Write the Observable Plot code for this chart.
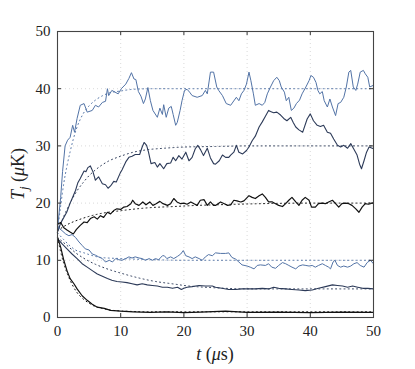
<!DOCTYPE html>
<html>
<head>
<meta charset="utf-8">
<script src="https://cdn.jsdelivr.net/npm/d3@7"></script>
<script src="https://cdn.jsdelivr.net/npm/@observablehq/plot@0.6"></script>
<style>
  html, body { margin: 0; padding: 0; background: #fff; }
  svg text { font-family: "Liberation Serif", "Times New Roman", serif !important; }
</style>
</head>
<body>
<div id="chart"></div>
<script>
// ---- tick values ----
const xTicks = [0, 10, 20, 30, 40, 50];
const yTicks = [0, 10, 20, 30, 40, 50];
const innerTicks = [10, 20, 30, 40];

// ---- measured series [t (µs), T (µK)] ----
const s40 = [[0,15.5],[0.5,21],[0.8,25.5],[1.2,30],[1.6,31],[2.0,31.5],[2.4,33.6],[2.7,32.4],[3.1,34.8],[3.6,37.1],[4.2,37.4],[4.7,35.9],[5.5,36.2],[6.0,37.1],[6.5,36.8],[7.1,37.6],[7.6,37.8],[7.9,40.0],[8.1,38.8],[8.6,39.7],[9.1,39.4],[9.6,39.1],[10.1,40.0],[10.8,40.8],[11.3,41.8],[11.7,42.8],[12.1,41.7],[12.4,41.6],[12.8,39.5],[13.2,38.7],[13.6,37.4],[13.9,38.2],[14.3,40.2],[14.7,37.9],[15.1,36.2],[15.8,35.0],[16.2,36.6],[16.6,35.5],[16.8,37.2],[17.2,35.0],[17.6,36.6],[18.0,36.9],[18.3,35.5],[18.7,33.6],[18.95,34.1],[19.4,36.2],[19.7,37.9],[20.1,39.7],[20.5,39.9],[20.9,39.4],[21.3,38.8],[22.1,38.5],[22.9,38.8],[23.4,39.7],[23.7,39.1],[24.2,42.9],[24.7,42.9],[25.2,40.3],[25.5,39.7],[26.1,38.8],[26.7,37.4],[27.4,37.1],[28.3,38.5],[28.7,37.9],[29.1,39.1],[29.5,39.7],[29.9,40.8],[30.3,42.9],[30.6,41.4],[31.0,39.1],[31.3,37.1],[31.9,37.4],[32.4,37.1],[32.8,37.6],[33.2,39.1],[33.7,40.3],[34.2,41.4],[34.7,42.0],[35.1,41.4],[35.4,40.3],[35.9,39.4],[36.2,37.9],[36.6,38.5],[37.0,36.2],[37.4,36.6],[37.8,37.4],[38.3,38.0],[38.7,39.1],[39.3,40.3],[39.8,41.4],[40.1,42.3],[40.5,42.0],[40.9,41.1],[41.2,39.7],[41.5,39.1],[41.9,39.5],[42.2,37.9],[42.7,36.8],[43.1,38.2],[43.5,36.8],[44.0,35.3],[44.4,37.4],[44.8,37.6],[45.3,38.5],[45.7,40.3],[46.1,42.9],[46.4,43.2],[46.8,40.3],[47.2,39.7],[47.5,40.8],[47.9,42.9],[48.4,43.2],[48.7,42.6],[49.1,42.0],[49.4,40.3],[50,40.6]];

const s30 = [[0,15],[0.5,16.5],[1.0,17.5],[1.5,18.5],[2.0,20],[2.5,21.3],[2.85,22.2],[3.2,23.5],[3.6,24.3],[4.2,25.6],[4.5,25.5],[4.8,26.2],[5.2,26.5],[5.6,25.5],[6.0,24.0],[6.5,24.6],[7.1,23.4],[7.6,23.2],[8.0,22.6],[8.4,23.0],[8.9,23.8],[9.3,23.7],[9.9,25.2],[10.2,25.8],[10.8,27.2],[11.3,28.0],[11.8,28.2],[12.3,28.5],[13.0,28.5],[13.4,29.8],[13.7,30.6],[14.1,30.1],[14.4,28.9],[14.8,26.9],[15.4,27.1],[15.8,26.3],[16.2,26.9],[16.8,26.0],[17.3,26.9],[17.9,27.0],[18.3,28.0],[18.7,27.4],[19.2,28.3],[19.7,27.7],[20.3,28.9],[20.8,27.4],[21.3,28.0],[21.8,29.5],[22.2,30.1],[22.6,29.4],[23.1,28.3],[23.7,29.6],[24.2,27.9],[24.7,26.9],[25.0,26.8],[25.6,27.4],[26.1,28.4],[26.6,28.0],[27.1,28.0],[27.4,28.4],[27.9,28.9],[28.3,30.1],[28.7,28.9],[29.3,28.6],[29.9,29.2],[30.3,29.8],[30.8,30.9],[31.3,31.7],[31.9,33.3],[32.4,34.2],[32.9,35.2],[33.4,36.2],[33.7,36.0],[34.2,35.8],[34.7,35.9],[35.3,35.4],[35.8,34.8],[36.3,34.4],[36.9,35.0],[37.3,34.1],[37.7,33.3],[38.2,32.8],[38.8,32.4],[39.5,34.7],[40.0,35.6],[40.5,34.4],[41.1,33.6],[41.6,33.4],[42.1,33.6],[42.7,32.4],[43.2,32.2],[43.7,31.2],[44.3,30.1],[44.8,29.8],[45.3,30.1],[45.9,29.6],[46.4,30.4],[46.9,29.4],[47.4,28.4],[47.8,26.8],[48.1,26.0],[48.5,27.4],[48.9,28.9],[49.3,29.8],[50,29.5]];

const s20 = [[0,16.3],[0.5,16.6],[1.0,15.7],[1.5,15.3],[2.05,14.9],[2.5,14.6],[3.0,15.4],[3.6,16.1],[4.2,16.7],[4.7,16.6],[5.2,17.3],[5.8,17.6],[6.3,17.2],[6.8,17.8],[7.3,17.5],[7.9,18.4],[8.4,18.1],[8.9,18.7],[9.4,19.0],[10.0,18.9],[10.5,19.3],[11.0,19.4],[11.6,19.9],[11.9,20.5],[12.3,19.9],[12.9,19.6],[13.5,20.2],[14.0,19.7],[14.6,20.2],[15.1,19.6],[15.6,19.9],[16.2,20.3],[16.7,19.9],[17.4,19.6],[17.9,19.9],[18.4,20.8],[18.9,20.2],[19.5,19.9],[20.0,20.0],[20.5,19.8],[21.1,20.2],[21.6,19.9],[22.1,19.6],[22.6,20.5],[23.2,20.6],[23.7,19.6],[24.2,20.2],[24.7,19.6],[25.0,19.6],[25.8,20.2],[26.4,19.9],[26.9,19.6],[27.4,19.7],[27.9,20.5],[28.4,20.4],[29.0,20.2],[29.5,20.4],[30.3,21.3],[30.8,21.0],[31.3,20.8],[31.9,21.3],[32.4,21.6],[32.9,21.0],[33.4,20.2],[34.0,20.2],[34.5,19.9],[35.0,19.6],[35.6,19.4],[36.1,19.9],[36.6,20.5],[37.1,21.0],[37.7,20.2],[38.2,19.6],[38.7,20.5],[39.2,21.0],[39.8,20.5],[40.2,19.3],[40.8,19.3],[41.3,19.9],[41.8,20.0],[42.4,19.9],[42.9,20.2],[43.5,20.5],[44.0,19.9],[44.5,19.3],[45.0,19.9],[45.6,20.0],[46.1,19.9],[46.6,19.6],[47.2,19.0],[47.7,18.4],[48.2,19.3],[48.7,19.9],[49.2,19.8],[49.8,20.0],[50,20.0]];

const s10 = [[0,15.8],[0.7,15.2],[1.3,14.6],[1.8,14.3],[2.3,14.5],[2.85,14.0],[3.4,13.2],[3.9,12.6],[4.4,12.0],[5.0,11.8],[5.5,11.1],[6.0,10.9],[6.5,10.6],[7.1,10.3],[7.6,9.7],[8.2,10.0],[8.7,9.7],[9.2,10.3],[9.7,10.1],[10.2,10.0],[10.8,10.3],[11.3,10.6],[11.8,10.4],[12.3,10.6],[12.9,10.4],[13.4,10.3],[13.9,10.0],[14.5,10.3],[15.0,10.0],[15.5,10.3],[16.0,10.1],[16.6,10.8],[16.9,10.8],[17.3,10.3],[17.9,10.6],[18.4,10.3],[19.0,10.7],[19.5,11.1],[19.9,11.7],[20.3,10.8],[20.8,10.6],[21.3,10.3],[21.8,10.6],[22.4,10.3],[22.9,10.0],[23.4,10.6],[23.9,11.0],[24.5,10.8],[25.0,11.3],[25.8,11.2],[26.6,11.2],[27.1,11.3],[27.6,10.5],[28.2,10.2],[28.7,9.7],[29.2,9.2],[30.0,9.0],[30.5,8.8],[31.1,8.5],[31.6,9.1],[32.1,9.2],[32.9,9.1],[33.4,9.4],[33.9,8.8],[34.5,8.6],[35.0,9.1],[35.6,9.6],[36.1,9.4],[36.6,9.1],[37.1,8.8],[37.7,8.5],[38.2,9.0],[38.8,9.2],[39.3,9.1],[39.8,9.0],[40.3,9.1],[40.8,8.8],[41.3,9.1],[41.9,9.4],[42.4,9.1],[42.9,8.8],[43.2,8.5],[43.6,9.7],[43.9,10.0],[44.3,9.1],[44.8,8.8],[45.3,9.0],[45.9,8.8],[46.4,9.0],[46.9,9.4],[47.4,9.6],[47.9,9.1],[48.5,8.8],[49.0,9.6],[49.5,10.0],[50,9.4]];

const s5 = [[0,13.8],[0.7,12.9],[1.5,12.0],[2.3,11.1],[3.1,10.3],[3.9,9.4],[4.7,8.8],[5.5,8.2],[6.3,7.6],[7.1,7.2],[7.9,6.8],[8.6,6.5],[9.4,6.3],[10.2,6.2],[11.0,6.1],[11.8,5.9],[12.6,5.7],[13.4,5.9],[14.2,5.7],[15.0,5.6],[15.8,5.5],[16.6,5.3],[17.4,5.3],[18.2,5.1],[19.0,5.3],[19.6,4.9],[20.0,5.1],[20.5,5.3],[21.3,5.4],[22.4,5.6],[23.4,5.5],[24.5,5.5],[25.0,5.3],[26.0,5.1],[27.1,4.9],[28.2,4.9],[29.2,5.0],[30.3,5.0],[31.3,5.0],[32.4,5.1],[33.4,5.0],[34.2,5.3],[35.0,5.1],[36.1,5.0],[37.1,4.9],[38.2,4.8],[39.2,4.7],[40.3,4.8],[41.3,5.1],[42.4,5.4],[43.5,5.7],[44.3,5.6],[45.1,5.5],[45.9,5.3],[46.7,5.5],[47.5,5.3],[48.3,5.1],[49.1,5.1],[50,5.0]];

const s1 = [[0,14],[0.5,12.3],[1.0,10.0],[1.5,8.2],[2.0,6.8],[2.6,5.9],[3.1,5.0],[3.9,3.8],[4.7,3.0],[5.5,2.3],[6.3,1.8],[7.4,1.6],[8.4,1.25],[10,1.1],[12,1.0],[14.7,0.9],[17.3,1.0],[20,0.85],[22.6,0.95],[26.6,1.1],[30,0.9],[35,0.95],[40,0.85],[45,0.95],[50,0.9]];

// ---- dotted reference curves ----
const d40 = [[0,15],[0.5,19.5],[1,23.5],[1.5,26.5],[2,29],[3,33],[4,35.5],[5,37],[6,38],[7,38.7],[8,39.2],[10,39.6],[12,39.9],[15,40],[50,40]];
const d30 = [[0,15],[1,17.7],[2,20],[3,22],[4,23.5],[5,24.8],[6,25.8],[8,27.3],[10,28.2],[12,28.9],[14,29.3],[17,29.6],[20,29.8],[25,29.9],[30,30],[50,30]];
const d20 = [[0,15.2],[1.3,16.1],[3.9,17.3],[6.5,18.1],[10.2,18.7],[14.6,19.2],[18.4,19.4],[22.1,19.6],[25,19.7],[30,19.85],[35,19.95],[40,20],[50,20]];
const d10 = [[0,14.8],[1,13.6],[2,12.5],[2.85,11.8],[4.2,11.3],[5,11.0],[6.8,10.5],[8,10.4],[10.2,10.3],[13.5,10.15],[17,10.05],[20,10],[50,10]];
const d5 = [[0,14],[1.5,12.6],[3,11.2],[4.4,10.2],[6,9.3],[7.6,8.6],[10.2,7.7],[12.9,6.9],[15.5,6.3],[18.1,5.9],[20.8,5.5],[24,5.25],[28,5.05],[32,5],[50,5]];
const d1 = [[0,14],[0.5,11.5],[1,9.4],[1.5,7.8],[2,6.5],[3,4.5],[4,3.3],[5,2.5],[6,1.9],[7,1.6],[8,1.35],[10,1.15],[12,1.05],[15,1.0],[50,1]];

const blue = "#5273a6";
const slate = "#2c3a58";
const black = "#111111";

const W = 415, H = 369;
const mL = 57, mR = 42, mT = 31, mB = 52;
const innerW = W - mL - mR, innerH = H - mT - mB;
const FONT = "Liberation Serif, Times New Roman, serif";

const lineOpts = (color, w) => ({x: d => d[0], y: d => d[1], stroke: color, strokeWidth: w});
const dotOpts = (color) => ({x: d => d[0], y: d => d[1], stroke: color, strokeWidth: 1, strokeDasharray: "1,3.2", curve: "monotone-x"});

const svg = Plot.plot({
  width: W, height: H,
  marginLeft: mL, marginRight: mR, marginTop: mT, marginBottom: mB,
  x: {domain: [0, 50]},
  y: {domain: [0, 50]},
  style: {fontFamily: FONT, fontSize: "15px", background: "#fff", color: "#222"},
  marks: [
    Plot.ruleX(innerTicks, {stroke: "#cfcfcf", strokeWidth: 0.8, strokeDasharray: "1,3"}),
    Plot.ruleY(innerTicks, {stroke: "#cfcfcf", strokeWidth: 0.8, strokeDasharray: "1,3"}),
    Plot.line(d40, dotOpts(blue)),
    Plot.line(d30, dotOpts(slate)),
    Plot.line(d20, dotOpts(black)),
    Plot.line(d10, dotOpts(blue)),
    Plot.line(d5, dotOpts(slate)),
    Plot.line(d1, dotOpts(black)),
    Plot.line(s40, lineOpts(blue, 1)),
    Plot.line(s30, lineOpts(slate, 1.1)),
    Plot.line(s20, lineOpts(black, 1.2)),
    Plot.line(s10, lineOpts(blue, 1)),
    Plot.line(s5, lineOpts(slate, 1.1)),
    Plot.line(s1, lineOpts(black, 1.2)),
    // inward ticks on all four sides
    Plot.tickX(innerTicks, {x: d => d, stroke: "#333", insetTop: innerH - 4}),
    Plot.tickX(innerTicks, {x: d => d, stroke: "#333", insetBottom: innerH - 4}),
    Plot.tickY(innerTicks, {y: d => d, stroke: "#333", insetRight: innerW - 4}),
    Plot.tickY(innerTicks, {y: d => d, stroke: "#333", insetLeft: innerW - 4}),
    Plot.frame({stroke: "#444", strokeWidth: 1.1}),
    Plot.axisX(xTicks, {tickSize: 0, tickPadding: 8, label: null, fill: "#222"}),
    Plot.axisY(yTicks, {tickSize: 0, tickPadding: 7, label: null, fill: "#222"})
  ]
});

const s = d3.select(svg);
const xl = s.append("text")
  .attr("x", mL + innerW / 2).attr("y", 360)
  .attr("text-anchor", "middle")
  .attr("font-family", FONT).attr("font-size", 18).attr("fill", "#222");
xl.append("tspan").attr("font-style", "italic").text("t");
xl.append("tspan").text(" (");
xl.append("tspan").attr("font-style", "italic").text("μ");
xl.append("tspan").text("s)");

const yl = s.append("text")
  .attr("transform", `translate(24,${mT + innerH / 2}) rotate(-90)`)
  .attr("text-anchor", "middle")
  .attr("font-family", FONT).attr("font-size", 18).attr("fill", "#222");
yl.append("tspan").attr("font-style", "italic").text("T");
yl.append("tspan").attr("font-style", "italic").attr("font-size", 13).attr("dy", 4).text("j");
yl.append("tspan").attr("dy", -4).text(" (");
yl.append("tspan").attr("font-style", "italic").text("μ");
yl.append("tspan").text("K)");

document.getElementById("chart").appendChild(svg);
</script>
</body>
</html>
